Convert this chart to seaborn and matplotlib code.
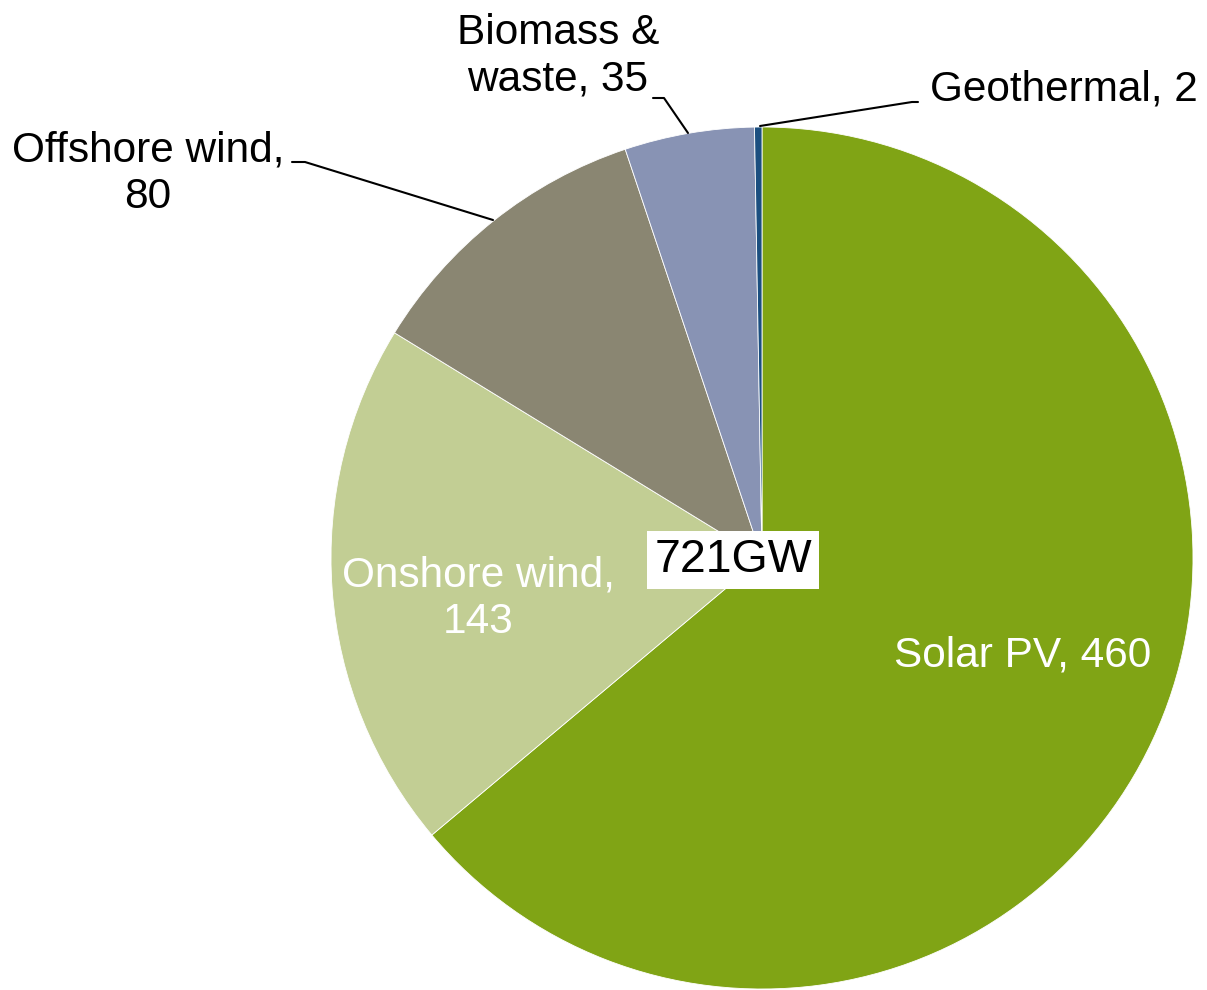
import seaborn as sns
import matplotlib.pyplot as plt

# Data for the chart (GW)
sources = ["Solar PV", "Onshore wind", "Offshore wind", "Biomass &\nwaste", "Geothermal"]
capacity = [460, 143, 80, 35, 2]
colors = ["#80A415", "#C2CE94", "#8A8672", "#8893B4", "#1B4F80"]
total_label = "721GW"

sns.set_theme(style="white")
plt.rcParams["font.family"] = ["Liberation Sans", "DejaVu Sans"]

fig = plt.figure(figsize=(12.07, 9.9), dpi=100)
ax = fig.add_axes([0, 0, 1, 1])

cx, cy, r = 762, 990 - 558, 431
ax.pie(capacity, colors=colors, startangle=90, counterclock=False,
       center=(cx, cy), radius=r, frame=True,
       wedgeprops=dict(edgecolor="white", linewidth=0.6))
ax.set_xlim(0, 1207)
ax.set_ylim(0, 990)
ax.set_aspect("equal")
ax.axis("off")

fs = 30.5
ls = 1.2

# labels inside the pie
ax.text(1023, 990 - 655, f"{sources[0]}, {capacity[0]}", color="white",
        fontsize=fs, ha="center", va="center")
ax.text(478, 990 - 599, f"{sources[1]},\n{capacity[1]}", color="white",
        fontsize=fs, ha="center", va="center", linespacing=ls)

# labels outside with leader lines
ax.text(148, 990 - 174, f"{sources[2]},\n{capacity[2]}", color="black",
        fontsize=fs, ha="center", va="center", linespacing=ls)
ax.plot([292, 305, 493], [990 - 162, 990 - 162, 990 - 220], color="black", lw=1.5)

ax.text(558, 990 - 56, f"{sources[3]}, {capacity[3]}", color="black",
        fontsize=fs, ha="center", va="center", linespacing=ls)
ax.plot([653, 664, 688], [990 - 98, 990 - 98, 990 - 133], color="black", lw=1.5)

ax.text(930, 990 - 90, f"{sources[4]}, {capacity[4]}", color="black",
        fontsize=fs, ha="left", va="center")
ax.plot([918, 912, 760], [990 - 102, 990 - 102, 990 - 126], color="black", lw=1.5)

# total in the middle
ax.text(733, 990 - 560, total_label, color="black", fontsize=33.5, ha="center", va="center",
        bbox=dict(facecolor="white", edgecolor="none", boxstyle="square,pad=0.15"))

plt.savefig("out.png", dpi=100)
